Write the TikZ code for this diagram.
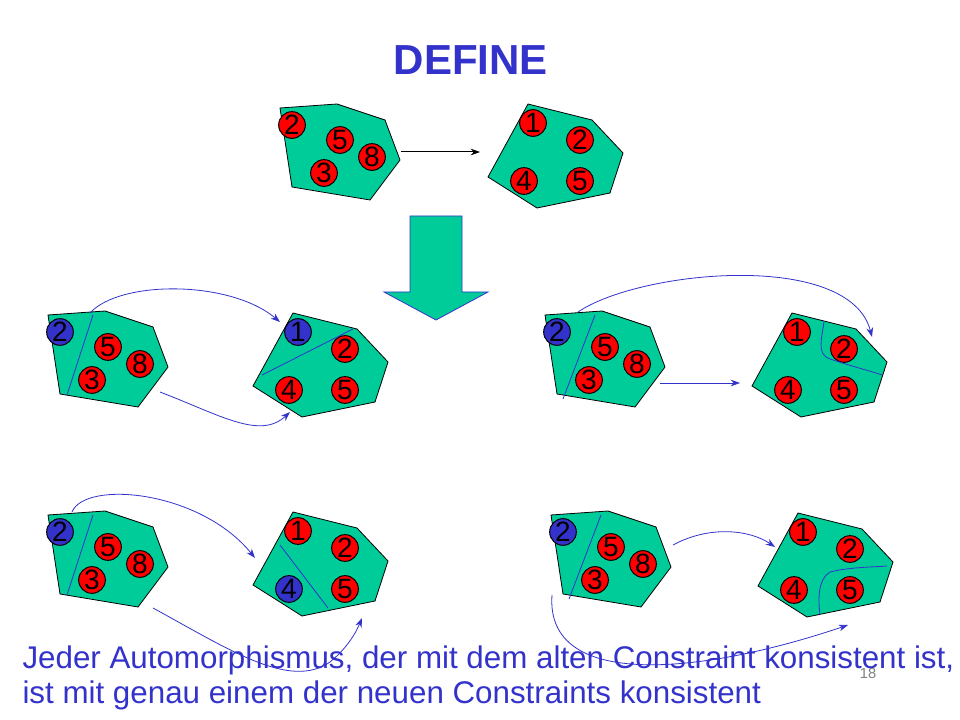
\documentclass[tikz,border=0pt]{standalone}
\usepackage{fontspec}
\setmainfont{Liberation Sans}
\usetikzlibrary{arrows.meta}
\definecolor{tealg}{RGB}{0,204,153}
\definecolor{ptblue}{RGB}{51,51,204}
\tikzset{every picture/.style={line width=0.75pt}}
\tikzset{
  poly/.style={draw=black, fill=tealg, line width=0.6pt},
  num/.style={circle, draw=black, fill=red, minimum size=20pt, inner sep=0pt, font=\fontsize{21}{21}\selectfont},
  bnum/.style={num, fill=ptblue},
  cut/.style={draw=ptblue, line width=0.6pt},
  link/.style={draw=ptblue, line width=0.6pt, -{Stealth[length=7pt,width=5pt]}}
}
% left shape with 2,5,8,3
\newcommand{\leftpoly}[1]{%
  \draw[poly] (280,108) -- (337,104) -- (385,120) -- (400,160) -- (370,200) -- (292,187) -- cycle;
  \node[#1] (l2) at (292,125) {2};
  \node[num] (l5) at (340,140) {5};
  \node[num] (l8) at (372,157) {8};
  \node[num] (l3) at (324,173) {3};}
% right shape with 1,2,4,5
\newcommand{\rightpoly}[2]{%
  \draw[poly] (528,104) -- (592,120) -- (623,153) -- (610,193) -- (537,208) -- (488,177) -- cycle;
  \node[#1] (r1) at (533,123) {1};
  \node[num] (r2) at (580,140) {2};
  \node[#2] (r4) at (524,181) {4};
  \node[num] (r5) at (580,181) {5};}

\begin{document}
\begin{tikzpicture}[x=0.75pt,y=0.75pt,yscale=-1,xscale=1]
	\path[fill=white] (0,0) rectangle (960,720);

	% Title
	\node[text=ptblue, font=\fontsize{31.5}{31.5}\selectfont\bfseries] (title) at (471,60) {DEFINE};

	% top pair
	\leftpoly{num}
	\rightpoly{num}{num}
	\draw[-{Stealth[length=7pt,width=5pt]}] (401,152) -- (480,152);

	% big arrow
	\draw[draw=ptblue, fill=tealg, line width=0.6pt] (410,216) -- (462,216) -- (462,292) -- (488,292) -- (436,320) -- (384,292) -- (410,292) -- cycle;

	% middle left
	\begin{scope}[shift={(-232,207)}]
		\leftpoly{bnum}
		\draw[cut] (325,108) -- (299,188);
		\coordinate (a1) at (322,106);
		\coordinate (a2) at (392,185);
	\end{scope}
	\begin{scope}[shift={(-235,209)}]
		\rightpoly{bnum}{num}
		\draw[cut] (497,166) -- (588,120);
		\coordinate (b1) at (515,113);
		\coordinate (b2) at (525,203);
	\end{scope}
	\draw[link] (a1) .. controls (120,280) and (230,280) .. (b1);
	\draw[link] (a2) .. controls (220,415) and (260,440) .. (b2);

	% middle right
	\begin{scope}[shift={(265,207)}]
		\leftpoly{bnum}
		\draw[cut] (330,108) -- (298,192);
		\coordinate (c1) at (313,105);
		\coordinate (c2) at (395,176);
	\end{scope}
	\begin{scope}[shift={(264,209)}]
		\rightpoly{num}{num}
		\draw[cut] (560,112) .. controls (558,130) and (552,145) .. (566,150) .. controls (590,158) and (610,163) .. (618,166);
		\coordinate (d1) at (608,128);
		\coordinate (d2) at (476,174);
	\end{scope}
	\draw[link] (c1) .. controls (640,270) and (850,250) .. (d1);
	\draw[link] (c2) -- (d2);

	% bottom left
	\begin{scope}[shift={(-232,407)}]
		\leftpoly{bnum}
		\draw[cut] (325,108) -- (299,188);
		\coordinate (e1) at (304,105);
		\coordinate (e2) at (385,201);
	\end{scope}
	\begin{scope}[shift={(-235,408)}]
		\rightpoly{num}{bnum}
		\draw[cut] (515,137) -- (563,200);
		\coordinate (f1) at (490,150);
		\coordinate (f2) at (597,210);
	\end{scope}
	\draw[link] (e1) .. controls (85,480) and (200,490) .. (f1);
	\draw[link] (e2) .. controls (230,650) and (290,690) .. (330,662) .. controls (345,650) and (355,635) .. (f2);

	% bottom right
	\begin{scope}[shift={(271,407)}]
		\leftpoly{bnum}
		\draw[cut] (330,108) -- (298,192);
		\coordinate (g1) at (402,138);
		\coordinate (g2) at (281,188);
	\end{scope}
	\begin{scope}[shift={(270,409)}]
		\rightpoly{num}{num}
		\draw[cut] (550,206) .. controls (548,190) and (548,170) .. (560,163) .. controls (580,158) and (605,158) .. (617,157);
		\coordinate (h1) at (505,138);
		\coordinate (h2) at (578,216);
	\end{scope}
	\draw[link] (g1) .. controls (710,525) and (750,530) .. (h1);
	\draw[link] (g2) .. controls (545,690) and (700,675) .. (h2);

	% caption
	\node[text=gray, font=\fontsize{11}{11}\selectfont] (page) at (868,673) {18};
	\node[text=ptblue, font=\fontsize{23.5}{23.5}\selectfont, anchor=base west, inner sep=0pt] (cap1) at (22,668) {Jeder Automorphismus, der mit dem alten Constraint konsistent ist,};
	\node[text=ptblue, font=\fontsize{23.5}{23.5}\selectfont, anchor=base west, inner sep=0pt] (cap2) at (22,703) {ist mit genau einem der neuen Constraints konsistent};
	\useasboundingbox (0,0) rectangle (960,720);
\end{tikzpicture}
\end{document}
